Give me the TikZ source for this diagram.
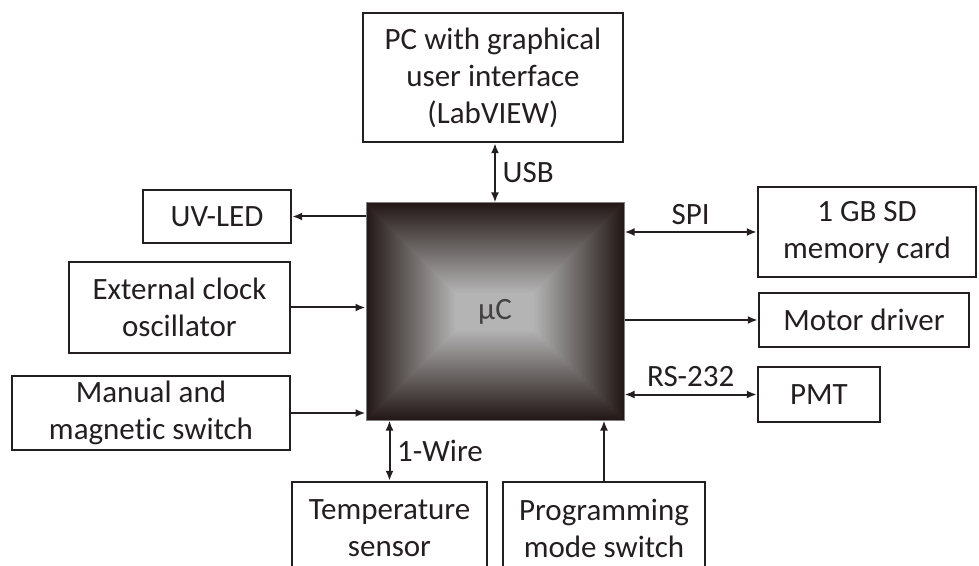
\documentclass[tikz,border=0pt]{standalone}
\usepackage{fontspec}
\setmainfont{Carlito}[Ligatures={NoCommon,NoRare}]
\usetikzlibrary{arrows.meta}
\definecolor{ink}{HTML}{231F20}
\definecolor{chipdark}{HTML}{231816}
\definecolor{chiplight}{HTML}{B4B4B4}
\begin{document}
\begin{tikzpicture}[x=0.5pt,y=-0.5pt,
   every node/.style={font=\fontsize{15.5pt}{18.5pt}\selectfont,text=ink},
   block/.style={draw=ink,line width=1.2pt,align=center,inner sep=2pt},
   link/.style={draw=ink,line width=1pt,>={Latex[length=5pt,width=4pt]}}]
   \useasboundingbox (0,0) rectangle (979,566);
   % Chip
   \foreach \i in {0,...,108}{
     \pgfmathsetmacro\p{min(100,\i*100/90)}
     \fill[chiplight!\p!chipdark] (366+\i,203+\i) rectangle (624-\i,420-\i);
   }
   \node[draw=gray,line width=0.5pt,minimum width=129pt,minimum height=108.5pt,
     inner sep=0pt,text=ink!85] (chip) at (495,311.5) {µC};
   % Top
   \node[block,minimum width=130pt,minimum height=64.5pt] (pc) at (493,77.5)
     {PC with graphical\\user interface\\(LabVIEW)};
   % Left
   \node[block,minimum width=74pt,minimum height=26.5pt] (uvled) at (217,216.5) {UV-LED};
   \node[block,minimum width=110.5pt,minimum height=45.5pt] (clock) at (179.5,307.5)
     {External clock\\oscillator};
   \node[block,minimum width=139pt,minimum height=37pt] (manual) at (151,413)
     {Manual and\\magnetic switch};
   % Right
   \node[block,minimum width=109pt,minimum height=45pt] (sdcard) at (867,232)
     {1 GB SD\\memory card};
   \node[block,minimum width=105pt,minimum height=27pt] (motor) at (864,320) {Motor driver};
   \node[block,minimum width=61pt,minimum height=27.5pt] (pmt) at (819,394.5) {PMT};
   % Bottom
   \node[block,minimum width=97.5pt,minimum height=46pt] (temp) at (389.5,528)
     {Temperature\\sensor};
   \node[block,minimum width=101pt,minimum height=46pt] (prog) at (604,528)
     {Programming\\mode switch};
   % Links
   \draw[link,<->] (pc.south -| chip.north) -- node[right] {USB} (chip.north);
   \draw[link,->] (uvled -| chip.west) -- (uvled.east);
   \draw[link,->] (clock.east) -- (clock -| chip.west);
   \draw[link,->] (manual.east) -- (manual -| chip.west);
   \draw[link,<->] (sdcard -| chip.east) -- node[above] {SPI} (sdcard.west);
   \draw[link,->] (motor -| chip.east) -- (motor.west);
   \draw[link,<->] (pmt -| chip.east) -- node[above] {RS-232} (pmt.west);
   \draw[link,<->] (temp.north) -- node[right] {1-Wire} (temp.north |- chip.south);
   \draw[link,->] (prog.north) -- (prog.north |- chip.south);
\end{tikzpicture}
\end{document}
